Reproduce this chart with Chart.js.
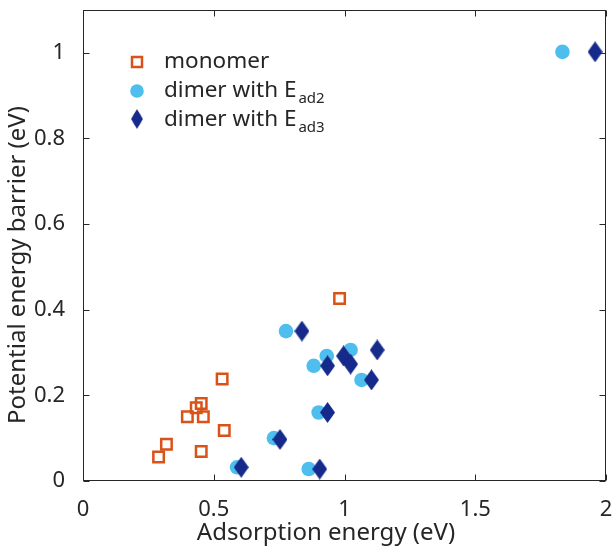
<!DOCTYPE html>
<html>
<head>
<meta charset="utf-8">
<script src="https://cdn.jsdelivr.net/npm/chart.js@4.4.0/dist/chart.umd.min.js"></script>
<style>
  html, body { margin: 0; padding: 0; background: #fff; }
  canvas { display: block; }
</style>
</head>
<body>
<canvas id="barrierChart" width="616" height="546"></canvas>
<script>
// adsorption energy (eV) vs potential energy barrier (eV)
const monomerX = [0.289, 0.319, 0.399, 0.433, 0.452, 0.460, 0.452, 0.532, 0.540, 0.981];
const monomerY = [0.056, 0.086, 0.150, 0.171, 0.181, 0.150, 0.069, 0.238, 0.118, 0.426];

const dimer2X = [0.776, 0.932, 0.882, 1.023, 1.065, 0.901, 0.730, 0.589, 0.863, 1.833];
const dimer2Y = [0.350, 0.292, 0.269, 0.306, 0.236, 0.160, 0.100, 0.032, 0.028, 1.002];

const dimer3X = [0.837, 0.935, 0.996, 1.023, 1.125, 1.103, 0.935, 0.753, 0.605, 0.905, 1.958];
const dimer3Y = [0.350, 0.269, 0.292, 0.273, 0.306, 0.236, 0.160, 0.097, 0.032, 0.028, 1.002];

const xTicks = [0, 0.5, 1, 1.5, 2];
const xTickLabels = ['0', '0.5', '1', '1.5', '2'];
const yTicks = [0, 0.2, 0.4, 0.6, 0.8, 1];
const yTickLabels = ['0', '0.2', '0.4', '0.6', '0.8', '1'];

const orange = '#D95319';
const lightBlue = '#4DBEEE';
const darkBlue = '#152A8A';
const ink = '#262626';
const fontName = '"Noto Sans", sans-serif';

function toPoints(xs, ys) {
  return xs.map((x, i) => ({ x: x, y: ys[i] }));
}

// tall diamond marker (rectRot is square, this one is taller than wide)
function makeDiamond(w, h, color) {
  const c = document.createElement('canvas');
  c.width = w;
  c.height = h;
  const g = c.getContext('2d');
  g.fillStyle = color;
  g.beginPath();
  g.moveTo(w / 2, 0);
  g.lineTo(w, h / 2);
  g.lineTo(w / 2, h);
  g.lineTo(0, h / 2);
  g.closePath();
  g.fill();
  return c;
}
const diamond = makeDiamond(15, 21, darkBlue);

// no extra room for end labels, the box is fixed
function noPadding(s) {
  s.paddingTop = 0;
  s.paddingBottom = 0;
  s.paddingLeft = 0;
  s.paddingRight = 0;
}

const framePlugin = {
  id: 'frame',
  afterDraw(chart) {
    const ctx = chart.ctx;
    const a = chart.chartArea;
    const xs = chart.scales.x;
    const ys = chart.scales.y;
    const L = Math.round(a.left) + 0.5;
    const R = Math.round(a.right) - 0.5;
    const T = Math.round(a.top) + 0.5;
    const B = Math.round(a.bottom) - 0.5;

    ctx.save();
    ctx.strokeStyle = ink;
    ctx.lineWidth = 1;
    ctx.strokeRect(L, T, R - L, B - T);

    // inward ticks on all four sides
    ctx.beginPath();
    xTicks.forEach(v => {
      const px = Math.round(xs.getPixelForValue(v)) + 0.5;
      ctx.moveTo(px, B);
      ctx.lineTo(px, B - 6);
      ctx.moveTo(px, T);
      ctx.lineTo(px, T + 6);
    });
    yTicks.forEach(v => {
      const py = Math.round(ys.getPixelForValue(v)) + 0.5;
      ctx.moveTo(L, py);
      ctx.lineTo(L + 6, py);
      ctx.moveTo(R, py);
      ctx.lineTo(R - 6, py);
    });
    ctx.stroke();

    // axis titles
    ctx.fillStyle = ink;
    ctx.font = '24px ' + fontName;
    ctx.textAlign = 'center';
    ctx.textBaseline = 'alphabetic';
    ctx.fillText('Adsorption energy (eV)', 326, 540);
    ctx.save();
    ctx.translate(25, 265);
    ctx.rotate(-Math.PI / 2);
    ctx.fillText('Potential energy barrier (eV)', 0, 0);
    ctx.restore();

    // legend
    const lx = 137;
    const tx = 164;
    ctx.textAlign = 'left';
    ctx.strokeStyle = orange;
    ctx.lineWidth = 2.5;
    ctx.strokeRect(lx - 5, 62 - 5, 10, 10);
    ctx.fillStyle = lightBlue;
    ctx.beginPath();
    ctx.arc(lx, 91, 6.8, 0, Math.PI * 2);
    ctx.fill();
    ctx.drawImage(diamond, lx - 6, 109, 12, 20);

    ctx.fillStyle = ink;
    ctx.font = '22.5px ' + fontName;
    ctx.fillText('monomer', tx, 68);
    const rows = [['dimer with E', 'ad2', 97], ['dimer with E', 'ad3', 126]];
    rows.forEach(r => {
      ctx.font = '22.5px ' + fontName;
      ctx.fillText(r[0], tx, r[2]);
      const w = ctx.measureText(r[0]).width;
      ctx.font = '15px ' + fontName;
      ctx.fillText(r[1], tx + w + 2, r[2] + 6);
    });
    ctx.restore();
  }
};

new Chart('barrierChart', {
  type: 'scatter',
  data: {
    datasets: [
      {
        label: 'monomer',
        data: toPoints(monomerX, monomerY),
        pointStyle: 'rect',
        pointRadius: 7.4,
        pointHoverRadius: 7.4,
        borderWidth: 2.5,
        borderColor: orange,
        backgroundColor: 'rgba(0,0,0,0)',
        order: 2
      },
      {
        label: 'dimer with Ead2',
        data: toPoints(dimer2X, dimer2Y),
        pointStyle: 'circle',
        pointRadius: 7.3,
        pointHoverRadius: 7.3,
        borderWidth: 0,
        backgroundColor: lightBlue,
        order: 1
      },
      {
        label: 'dimer with Ead3',
        data: toPoints(dimer3X, dimer3Y),
        pointStyle: diamond,
        pointRadius: 8,
        borderWidth: 0,
        backgroundColor: darkBlue,
        order: 0
      }
    ]
  },
  options: {
    responsive: false,
    animation: false,
    devicePixelRatio: 1,
    clip: false,
    layout: { padding: { top: 6, right: 7, left: 0, bottom: 0 } },
    plugins: {
      legend: { display: false },
      tooltip: { enabled: false }
    },
    scales: {
      x: {
        type: 'linear',
        min: 0,
        max: 2,
        grid: { display: false },
        border: { display: false },
        afterFit: s => { s.height = 65; noPadding(s); },
        afterBuildTicks: s => { s.ticks = xTicks.map(v => ({ value: v })); },
        ticks: {
          padding: 8,
          color: ink,
          font: { family: fontName, size: 22 },
          maxRotation: 0,
          callback: (v, i) => xTickLabels[i]
        }
      },
      y: {
        type: 'linear',
        min: 0,
        max: 1.1,
        grid: { display: false },
        border: { display: false },
        afterFit: s => { s.width = 83; noPadding(s); },
        afterBuildTicks: s => { s.ticks = yTicks.map(v => ({ value: v })); },
        ticks: {
          padding: 10,
          color: ink,
          font: { family: fontName, size: 22 },
          callback: (v, i) => yTickLabels[i]
        }
      }
    }
  },
  plugins: [framePlugin]
});
</script>
</body>
</html>
